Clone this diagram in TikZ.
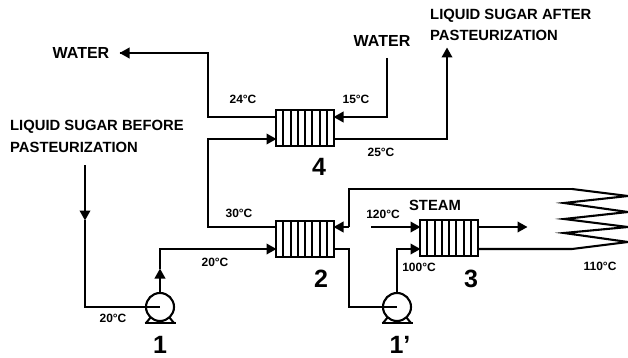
\documentclass[tikz,border=0pt]{standalone}
\usepackage{fontspec}
\setmainfont{Liberation Sans}
\usetikzlibrary{arrows.meta}
\tikzset{
  pipe/.style={line width=2.1pt,line join=miter},
  flow/.style={pipe,-{Triangle[length=10pt,width=10.5pt]},shorten >=-0.5pt},
  hxbox/.style={draw,line width=2pt,minimum width=58pt,minimum height=36pt,inner sep=0pt,outer sep=0pt,
    path picture={\foreach \i in {1,...,7}{\draw[line width=2pt] ([xshift=\i*7.25pt]path picture bounding box.south west) -- ([xshift=\i*7.25pt]path picture bounding box.north west);}}},
  pumpc/.style={draw,circle,line width=2.1pt,minimum size=28pt,inner sep=0pt,outer sep=0pt},
  temp/.style={font=\bfseries\fontsize{12}{13}\selectfont,inner sep=0pt},
  lbl/.style={font=\bfseries\fontsize{14.8}{15}\selectfont,inner sep=0pt},
  wlbl/.style={font=\bfseries\fontsize{16}{17}\selectfont,inner sep=0pt},
  numl/.style={font=\bfseries\fontsize{25}{26}\selectfont,inner sep=0pt},
}
\newcommand{\pumpbase}[1]{%
  \draw[line width=2pt,line join=miter] ([shift={(-15.5pt,-16pt)}]#1.center) -- ([shift={(15.5pt,-16pt)}]#1.center);
  \draw[line width=2pt] ([shift={(-14pt,-16pt)}]#1.center) -- ([shift={(-9pt,-10pt)}]#1.center);
  \draw[line width=2pt] ([shift={(14pt,-16pt)}]#1.center) -- ([shift={(9pt,-10pt)}]#1.center);
}
\begin{document}
\begin{tikzpicture}[x=1pt,y=-1pt]
\useasboundingbox (0,0) rectangle (628,358);
% equipment
\node[hxbox] (hxd) at (305,128) {};
\node[hxbox] (hxb) at (305,238.5) {};
\node[hxbox] (hxc) at (449,238) {};
\node[pumpc] (pa) at (160,307) {};
\node[pumpc] (pb) at (397,307) {};
\pumpbase{pa}
\pumpbase{pb}
% named bends
\coordinate (sIn) at (85,165);
\coordinate (sMid) at (85,220);
\coordinate (sCor) at (85,307);
\coordinate (aMid) at (160,269);
\coordinate (aCor) at (160,249);
\coordinate (bIn) at (276,249);
\coordinate (cA) at (276,227);
\coordinate (cB) at (208,227);
\coordinate (cC) at (208,139);
\coordinate (cD) at (276,139);
\coordinate (wA) at (276,117);
\coordinate (wB) at (208,117);
\coordinate (wC) at (208,53);
\coordinate (wD) at (120,53);
\coordinate (vA) at (387,58);
\coordinate (vB) at (387,117);
\coordinate (vC) at (334,117);
\coordinate (xA) at (334,139);
\coordinate (xB) at (447,139);
\coordinate (xC) at (447,48);
\coordinate (lA) at (334,227);
\coordinate (lB) at (349,227);
\coordinate (lC) at (349,189);
\coordinate (lD) at (572,189);
\coordinate (lE) at (478,249);
\coordinate (lF) at (572,249);
\coordinate (oA) at (334,249);
\coordinate (oB) at (349,249);
\coordinate (oC) at (349,307);
\coordinate (pU) at (397,249);
\coordinate (pV) at (420,249);
\coordinate (stA) at (371,227);
\coordinate (stB) at (420,227);
\coordinate (stC) at (478,227);
\coordinate (stD) at (527,227);
% connectors
\draw[flow] (sIn) -- (sMid);
\draw[pipe] (sMid) -- (sCor) -- (pa.center);
\draw[flow] (pa.north) -- (aMid);
\draw[flow] (aMid) -- (aCor) -- (bIn);
\draw[pipe] (cA) -- (cB) -- (cC) -- (cD);
\draw[flow] (cC) -- (cD);
\draw[pipe] (wA) -- (wB) -- (wC) -- (wD);
\draw[flow] (wC) -- (wD);
\draw[pipe] (vA) -- (vB) -- (vC);
\draw[flow] (vB) -- (vC);
\draw[flow] (xA) -- (xB) -- (xC);
\draw[pipe] (lD) -- (lC) -- (lB);
\draw[flow] (lB) -- (lA);
\draw[pipe,line join=miter] (lD) -- (628,196) -- (564,203) -- (628,212) -- (564,219) -- (628,227) -- (564,233) -- (628,242) -- (lF) -- (lE);
\draw[pipe] (oA) -- (oB) -- (oC) -- (pb.center);
\draw[flow] (pb.north) -- (pU) -- (pV);
\draw[flow] (stA) -- (stB);
\draw[flow] (stC) -- (stD);
% labels
\node[wlbl] (t1) at (81,53) {WATER};
\node[wlbl] (t2) at (382,41) {WATER};
\node[lbl,anchor=west] (t3) at (430,16) {LIQUID SUGAR AFTER};
\node[lbl,anchor=west] (t4) at (430,35) {PASTEURIZATION};
\node[lbl,anchor=west] (t5) at (10,127) {LIQUID SUGAR BEFORE};
\node[lbl,anchor=west] (t6) at (10,147) {PASTEURIZATION};
\node[lbl] (t7) at (435,205) {STEAM};
\node[temp] (a1) at (113,318) {20°C};
\node[temp] (a2) at (215,262) {20°C};
\node[temp] (a3) at (239,213) {30°C};
\node[temp] (a4) at (243,99) {24°C};
\node[temp] (a5) at (356,99) {15°C};
\node[temp] (a6) at (381,152) {25°C};
\node[temp] (a7) at (383,214) {120°C};
\node[temp] (a8) at (419,267) {100°C};
\node[temp] (a9) at (600,266) {110°C};
\node[numl] (n1) at (160,345) {1};
\node[numl] (n2) at (400,345) {1'};
\node[numl] (n3) at (321,279) {2};
\node[numl] (n4) at (471,279) {3};
\node[numl] (n5) at (319,167) {4};
\end{tikzpicture}
\end{document}
